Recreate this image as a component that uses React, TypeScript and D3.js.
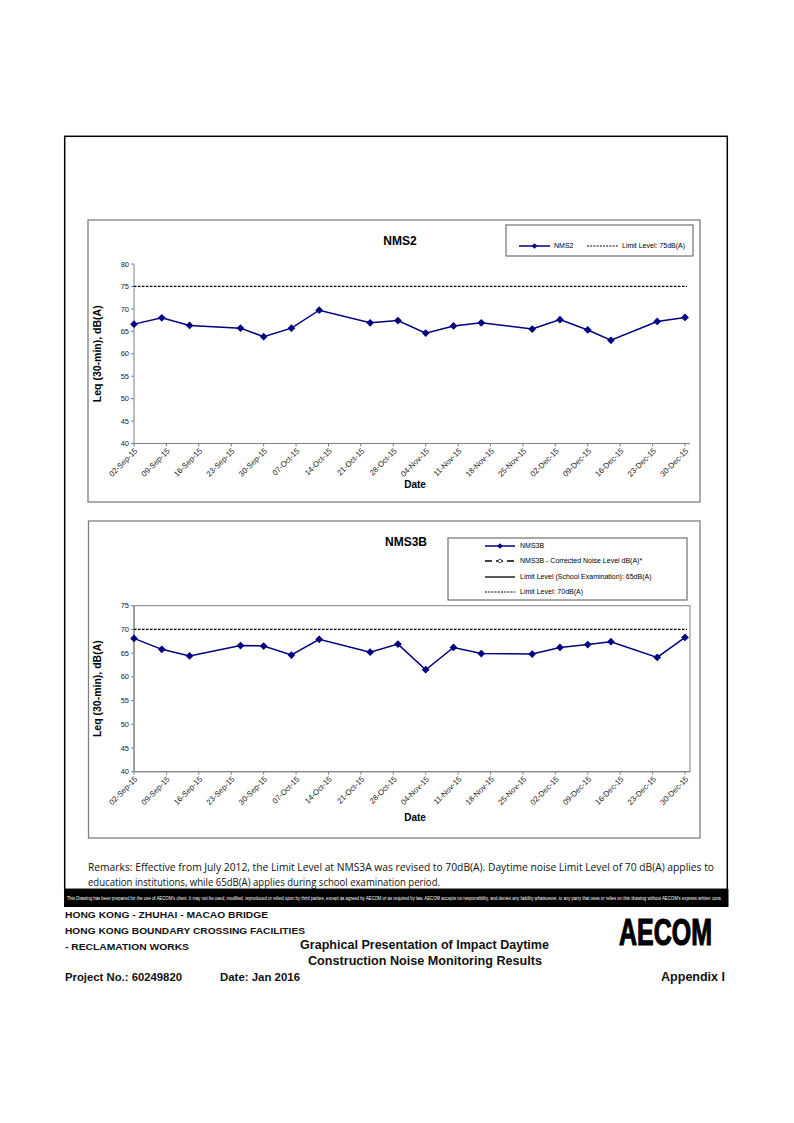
import React from "react";
import * as d3 from "d3";

const sampleDates = [
  "02-Sep-15", "08-Sep-15", "14-Sep-15", "25-Sep-15", "30-Sep-15", "06-Oct-15",
  "12-Oct-15", "23-Oct-15", "29-Oct-15", "04-Nov-15", "10-Nov-15", "16-Nov-15",
  "27-Nov-15", "03-Dec-15", "09-Dec-15", "14-Dec-15", "24-Dec-15", "30-Dec-15",
];
const nms2Values = [66.6, 68.0, 66.3, 65.7, 63.8, 65.7, 69.7, 66.9, 67.4, 64.6, 66.2, 66.9, 65.5, 67.6, 65.3, 63.0, 67.2, 68.1];
const nms3bValues = [68.1, 65.8, 64.4, 66.6, 66.5, 64.6, 67.9, 65.2, 66.9, 61.5, 66.2, 64.9, 64.8, 66.2, 66.8, 67.4, 64.1, 68.3];

const xTickLabels = [
  "02-Sep-15", "09-Sep-15", "16-Sep-15", "23-Sep-15", "30-Sep-15", "07-Oct-15",
  "14-Oct-15", "21-Oct-15", "28-Oct-15", "04-Nov-15", "11-Nov-15", "18-Nov-15",
  "25-Nov-15", "02-Dec-15", "09-Dec-15", "16-Dec-15", "23-Dec-15", "30-Dec-15",
];
const nms2YTicks = [40, 45, 50, 55, 60, 65, 70, 75, 80];
const nms3bYTicks = [40, 45, 50, 55, 60, 65, 70, 75];
const nms2Limit = 75;
const nms3bLimit = 70;

const nms2Legend = ["NMS2", "Limit Level: 75dB(A)"];
const nms3bLegend = [
  "NMS3B",
  "NMS3B - Corrected Noise Level dB(A)*",
  "Limit Level (School Examination): 65dB(A)",
  "Limit Level: 70dB(A)",
];

const parse = d3.utcParse("%d-%b-%y");
const NAVY = "#000080";
const ARIAL = "'Liberation Sans', Arial, sans-serif";

type ChartProps = {
  title: string;
  titleX: number;
  values: number[];
  yTicks: number[];
  yDomain: [number, number];
  yRange: [number, number];
  limit: number;
  box: [number, number, number, number];
  plotBorder: boolean;
  dateY: number;
  legend: React.ReactNode;
};

function Chart(p: ChartProps) {
  const x = d3
    .scaleUtc()
    .domain([parse("02-Sep-15") as Date, parse("30-Dec-15") as Date])
    .range([134, 685]);
  const y = d3.scaleLinear().domain(p.yDomain).range(p.yRange);
  const xEnd = 690;
  const pts = sampleDates.map((d, i) => ({ d: parse(d) as Date, v: p.values[i] }));
  const line = d3
    .line<{ d: Date; v: number }>()
    .x((q) => x(q.d))
    .y((q) => y(q.v));
  const marker = d3.symbol(d3.symbolSquare, 30)() as string;
  const [bx, by, bw, bh] = p.box;
  const y0 = y(p.yDomain[0]);
  const y1 = y(p.yDomain[1]);
  const x0 = x.range()[0];
  return (
    <g>
      <rect x={bx} y={by} width={bw} height={bh} fill="#fff" stroke="#808080" strokeWidth={1.3} />
      <text x={p.titleX} y={by + 25} textAnchor="middle" fontFamily={ARIAL} fontWeight="bold" fontSize={12}>
        {p.title}
      </text>
      {p.plotBorder && (
        <rect x={x0} y={y1} width={xEnd - x0} height={y0 - y1} fill="none" stroke="#808080" strokeWidth={1} />
      )}
      <line x1={x0} x2={x0} y1={y1} y2={y0} stroke="#808080" strokeWidth={1} />
      <line x1={x0} x2={xEnd} y1={y0} y2={y0} stroke="#808080" strokeWidth={1} />
      {p.yTicks.map((t) => (
        <g key={t}>
          <line x1={x0 - 3} x2={x0} y1={y(t)} y2={y(t)} stroke="#808080" />
          <text x={x0 - 5} y={y(t)} dy="0.35em" textAnchor="end" fontFamily={ARIAL} fontSize={7.5} fill="#222">
            {t}
          </text>
        </g>
      ))}
      {xTickLabels.map((t) => {
        const xt = x(parse(t) as Date);
        return (
          <g key={t}>
            <line x1={xt} x2={xt} y1={y0} y2={y0 + 3} stroke="#808080" />
            <text
              transform={`translate(${xt + 2},${y0 + 6}) rotate(-45)`}
              textAnchor="end"
              dy="0.35em"
              fontFamily={ARIAL}
              fontSize={7.8}
              fill="#222"
            >
              {t}
            </text>
          </g>
        );
      })}
      <text
        transform={`translate(${101},${(y0 + y1) / 2}) rotate(-90)`}
        textAnchor="middle"
        fontFamily={ARIAL}
        fontWeight="bold"
        fontSize={10.5}
      >
        Leq (30-min), dB(A)
      </text>
      <text x={415} y={p.dateY} textAnchor="middle" fontFamily={ARIAL} fontWeight="bold" fontSize={10}>
        Date
      </text>
      <line
        x1={x(parse("02-Sep-15") as Date)}
        x2={x(parse("30-Dec-15") as Date) + 2}
        y1={y(p.limit)}
        y2={y(p.limit)}
        stroke="#000"
        strokeWidth={1.2}
        strokeDasharray="2.5,1.5"
      />
      <path d={line(pts) as string} fill="none" stroke={NAVY} strokeWidth={1.5} />
      {pts.map((q, i) => (
        <path key={i} d={marker} transform={`translate(${x(q.d)},${y(q.v)}) rotate(45)`} fill={NAVY} />
      ))}
      {p.legend}
    </g>
  );
}

export default function App() {
  const marker = d3.symbol(d3.symbolSquare, 16)() as string;
  const legend1 = (
    <g fontFamily={ARIAL} fontSize={7}>
      <rect x={506} y={225} width={187} height={31} fill="#fff" stroke="#555" strokeWidth={1} />
      <line x1={519} x2={550} y1={246} y2={246} stroke={NAVY} strokeWidth={1.5} />
      <path d={marker} transform="translate(534.5,246) rotate(45)" fill={NAVY} />
      <text x={554} y={246} dy="0.35em">{nms2Legend[0]}</text>
      <line x1={587} x2={618} y1={246} y2={246} stroke="#000" strokeWidth={1} strokeDasharray="2,1.2" />
      <text x={622} y={246} dy="0.35em">{nms2Legend[1]}</text>
    </g>
  );
  const rows = [546, 561, 577, 592];
  const legend2 = (
    <g fontFamily={ARIAL} fontSize={7}>
      <rect x={448} y={538} width={239} height={62} fill="#fff" stroke="#555" strokeWidth={1} />
      <line x1={485} x2={515} y1={rows[0]} y2={rows[0]} stroke={NAVY} strokeWidth={1.5} />
      <path d={marker} transform={`translate(500,${rows[0]}) rotate(45)`} fill={NAVY} />
      <line x1={485} x2={515} y1={rows[1]} y2={rows[1]} stroke="#000" strokeWidth={1.3} strokeDasharray="7,4" />
      <circle cx={500} cy={rows[1]} r={1.8} fill="#fff" stroke="#555" strokeWidth={1} />
      <line x1={485} x2={515} y1={rows[2]} y2={rows[2]} stroke="#000" strokeWidth={1.3} />
      <line x1={485} x2={515} y1={rows[3]} y2={rows[3]} stroke="#000" strokeWidth={1} strokeDasharray="2,1.2" />
      {nms3bLegend.map((t, i) => (
        <text key={t} x={520} y={rows[i]} dy="0.35em">{t}</text>
      ))}
    </g>
  );
  return (
    <svg
      width={794}
      height={1123}
      viewBox="0 0 794 1123"
      style={{ position: "absolute", left: 0, top: 0, display: "block", background: "#fff" }}
    >
      <rect x={0} y={0} width={794} height={1123} fill="#fff" />
      <rect x={64.7} y={136.3} width={662.6} height={753} fill="none" stroke="#000" strokeWidth={1.5} />
      <Chart
        title="NMS2"
        titleX={400}
        values={nms2Values}
        yTicks={nms2YTicks}
        yDomain={[40, 80]}
        yRange={[443.5, 264]}
        limit={nms2Limit}
        box={[88, 220, 612, 282]}
        plotBorder={false}
        dateY={488}
        legend={legend1}
      />
      <Chart
        title="NMS3B"
        titleX={406}
        values={nms3bValues}
        yTicks={nms3bYTicks}
        yDomain={[40, 75]}
        yRange={[771.7, 605.7]}
        limit={nms3bLimit}
        box={[88.5, 521, 611.5, 317]}
        plotBorder={true}
        dateY={821}
        legend={legend2}
      />
      <g fontFamily="'Open Sans', 'Noto Sans', sans-serif" fontSize={10.5} fill="#111">
        <text x={88} y={871} textLength={626} lengthAdjust="spacingAndGlyphs">
          Remarks: Effective from July 2012, the Limit Level at NMS3A was revised to 70dB(A). Daytime noise Limit Level of 70 dB(A) applies to
        </text>
        <text x={88} y={886} textLength={352} lengthAdjust="spacingAndGlyphs">
          education institutions, while 65dB(A) applies during school examination period.
        </text>
      </g>
      <rect x={64} y={889} width={664.5} height={18} fill="#000" />
      <text
        x={67}
        y={899.5}
        fill="#fff"
        fontFamily="'Liberation Sans Narrow', 'Liberation Sans', sans-serif"
        fontSize={4.8}
        textLength={654}
        lengthAdjust="spacingAndGlyphs"
      >
        This Drawing has been prepared for the use of AECOM's client. It may not be used, modified, reproduced or relied upon by third parties, except as agreed by AECOM or as required by law. AECOM accepts no responsibility, and denies any liability whatsoever, to any party that uses or relies on this drawing without AECOM's express written cons
      </text>
      <g fontFamily={ARIAL} fontWeight="bold" fill="#111">
        <text x={65} y={918} fontSize={9.5} textLength={203} lengthAdjust="spacingAndGlyphs">HONG KONG - ZHUHAI - MACAO BRIDGE</text>
        <text x={65} y={934} fontSize={9.5} textLength={240} lengthAdjust="spacingAndGlyphs">HONG KONG BOUNDARY CROSSING FACILITIES</text>
        <text x={65} y={950} fontSize={9.5} textLength={124} lengthAdjust="spacingAndGlyphs">- RECLAMATION WORKS</text>
        <text x={300} y={949} fontSize={12} textLength={249} lengthAdjust="spacingAndGlyphs">Graphical Presentation of Impact Daytime</text>
        <text x={308} y={965} fontSize={12} textLength={234} lengthAdjust="spacingAndGlyphs">Construction Noise Monitoring Results</text>
        <text x={65} y={981} fontSize={11.5} textLength={117} lengthAdjust="spacingAndGlyphs">Project No.: 60249820</text>
        <text x={220} y={981} fontSize={11.5} textLength={80} lengthAdjust="spacingAndGlyphs">Date: Jan 2016</text>
        <text x={725} y={981} fontSize={12.5} textAnchor="end">Appendix I</text>
        <text
          x={619}
          y={945}
          fontSize={37}
          fontWeight={900}
          fontFamily="'Liberation Sans Narrow', 'Liberation Sans', sans-serif"
          textLength={93}
          lengthAdjust="spacingAndGlyphs"
          fill="#000"
          stroke="#000"
          strokeWidth={1.2}
        >
          AECOM
        </text>
      </g>
    </svg>
  );
}
